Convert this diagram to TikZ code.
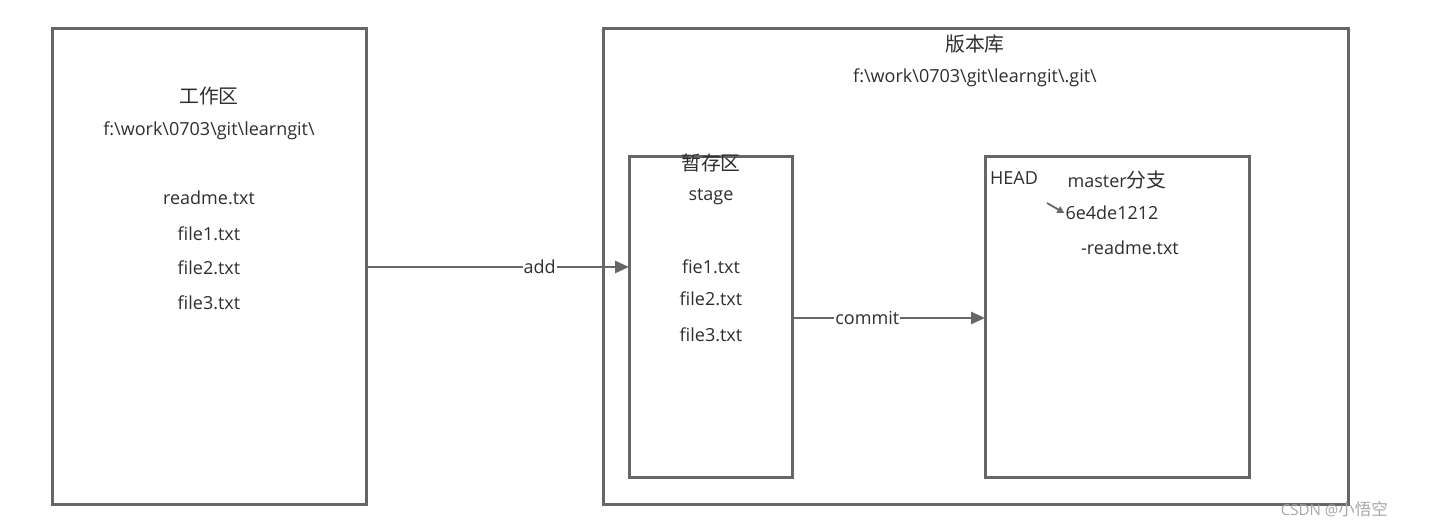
\documentclass[tikz,border=0pt]{standalone}
\usepackage{fontspec}
\setmainfont{Open Sans}
\newfontfamily\cjk[Scale=1.1]{Noto Sans CJK SC}
\usetikzlibrary{arrows.meta}
\definecolor{boxgray}{HTML}{666666}
\definecolor{txtgray}{HTML}{2E2E2E}
\tikzset{
  panel/.style={draw=boxgray, line width=3pt},
  lbl/.style={text=txtgray, font=\fontsize{18}{20}\selectfont, inner sep=1pt},
  conn/.style={draw=boxgray, line width=2.8pt, -{Triangle[length=14pt,width=12pt]}},
  onlbl/.style={lbl, fill=white, inner sep=1pt},
}
\begin{document}
\begin{tikzpicture}[x=1pt,y=-1pt]
\useasboundingbox (0,0) rectangle (1433,527);
% boxes
\draw[panel] (52,29) rectangle (366,504);
\node[inner sep=0pt] (work) at (209,266.5) [minimum width=314pt, minimum height=475pt] {};
\draw[panel] (603,29) rectangle (1348,504);
\draw[panel] (629,156) rectangle (792,477);
\node[inner sep=0pt] (stagebox) at (710.5,316.5) [minimum width=163pt, minimum height=321pt] {};
\draw[panel] (985,156) rectangle (1249,477);
\node[inner sep=0pt] (masterbox) at (1117,316.5) [minimum width=264pt, minimum height=321pt] {};
% work area texts
\node[lbl] (wtitle) at (209,96) {\cjk 工作区};
\node[lbl] (wpath) at (209,131) {f:\textbackslash work\textbackslash 0703\textbackslash git\textbackslash learngit\textbackslash};
\node[lbl] (wf0) at (209,198) {readme.txt};
\node[lbl] (wf1) at (209,234) {file1.txt};
\node[lbl] (wf2) at (209,268) {file2.txt};
\node[lbl] (wf3) at (209,303) {file3.txt};
% repo
\node[lbl] (rtitle) at (975,44) {\cjk 版本库};
\node[lbl] (rpath) at (975,78) {f:\textbackslash work\textbackslash 0703\textbackslash git\textbackslash learngit\textbackslash .git\textbackslash};
% stage
\node[lbl] (stitle) at (711,163) {\cjk 暂存区};
\node[lbl] (sname) at (711,197) {stage};
\node[lbl] (sf1) at (711,267) {fie1.txt};
\node[lbl] (sf2) at (711,299) {file2.txt};
\node[lbl] (sf3) at (711,335) {file3.txt};
% master
\node[lbl] (head) at (1014,178) {HEAD};
\node[lbl] (mtitle) at (1117,180) {master{\cjk 分支}};
\node[lbl] (commitid) at (1112,213) {6e4de1212};
\node[lbl] (mfile) at (1130,248) {-readme.txt};
\coordinate (hstart) at (1047,203);
\draw[draw=boxgray, line width=1.8pt, -{Triangle[length=7pt,width=7pt]}] (hstart) -- (commitid.west);
% connectors
\coordinate (addstart) at (366,267);
\coordinate (addend) at (629,267);
\draw[conn] (addstart) -- node[onlbl, pos=0.66] (addl) {add} (addend);
\coordinate (comstart) at (792,318);
\coordinate (comend) at (985,318);
\draw[conn] (comstart) -- node[onlbl, pos=0.39] (coml) {commit} (comend);
% watermark
\node[text=black!35, font=\fontsize{15}{17}\selectfont, anchor=east, inner sep=0pt] (wm) at (1388,509) {CSDN @{\cjk 小悟空}};
\end{tikzpicture}
\end{document}
